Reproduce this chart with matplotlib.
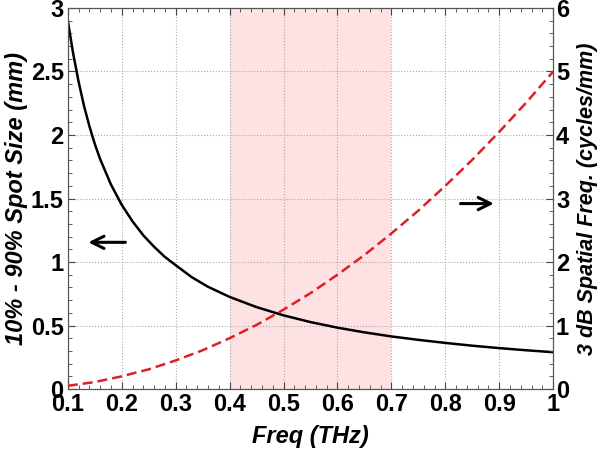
import numpy as np
import matplotlib.pyplot as plt
from matplotlib.ticker import AutoMinorLocator

# --- data ---
freq_spot = [0.1, 0.11, 0.12, 0.13, 0.14, 0.15, 0.16, 0.17, 0.18, 0.19, 0.2,
             0.22, 0.24, 0.26, 0.28, 0.3, 0.33, 0.36, 0.4, 0.45, 0.5,
             0.55, 0.6, 0.65, 0.7, 0.75, 0.8, 0.85, 0.9, 0.95, 1.0]
spot_size = [2.90, 2.64, 2.42, 2.23, 2.07, 1.93, 1.81, 1.71, 1.61, 1.53, 1.45,
             1.32, 1.21, 1.12, 1.04, 0.975, 0.88, 0.805, 0.725, 0.645, 0.58,
             0.527, 0.483, 0.446, 0.414, 0.387, 0.363, 0.341, 0.322, 0.305, 0.29]
freq_sf = [0.1, 0.125, 0.15, 0.2, 0.25, 0.3, 0.35, 0.4, 0.45, 0.5,
           0.55, 0.6, 0.65, 0.7, 0.75, 0.8, 0.85, 0.9, 0.95, 1.0]
spatial_freq = [0.05, 0.08, 0.11, 0.2, 0.31, 0.45, 0.61, 0.8, 1.01, 1.25,
                1.51, 1.8, 2.11, 2.45, 2.81, 3.2, 3.61, 4.05, 4.51, 5.0]
band = (0.4, 0.7)
x_ticks = [0.1, 0.2, 0.3, 0.4, 0.5, 0.6, 0.7, 0.8, 0.9, 1.0]
x_labels = ['0.1', '0.2', '0.3', '0.4', '0.5', '0.6', '0.7', '0.8', '0.9', '1']
left_ticks = [0, 0.5, 1, 1.5, 2, 2.5, 3]
left_labels = ['0', '0.5', '1', '1.5', '2', '2.5', '3']
right_ticks = [0, 1, 2, 3, 4, 5, 6]

plt.rcParams['font.family'] = ['Liberation Sans', 'DejaVu Sans']
plt.rcParams['font.weight'] = 'bold'

fig = plt.figure(figsize=(6, 4.49), dpi=100)
ax = fig.add_axes([0.113, 0.1336, 0.809, 0.8486])
ax2 = ax.twinx()

ax.axvspan(band[0], band[1], color='#fde1e3', zorder=0, lw=0)
ax.plot(freq_spot, spot_size, color='black', lw=1.8, zorder=3)
ax2.plot(freq_sf, spatial_freq, color='#dd1f26', lw=1.8, ls=(0, (4, 2)), zorder=3)

ax.set_xlim(0.1, 1.0)
ax.set_ylim(0, 3)
ax2.set_ylim(0, 6)
ax.set_xticks(x_ticks)
ax.set_xticklabels(x_labels)
ax.set_yticks(left_ticks)
ax.set_yticklabels(left_labels)
ax2.set_yticks(right_ticks)

for a in (ax, ax2):
    a.xaxis.set_minor_locator(AutoMinorLocator(5))
    a.yaxis.set_minor_locator(AutoMinorLocator(5))
    a.tick_params(which='both', direction='in', top=True, labelsize=17,
                  color='#444444', pad=3)
    a.tick_params(which='major', length=5)
    a.tick_params(which='minor', length=3)
    for s in a.spines.values():
        s.set_color('#555555')
ax.tick_params(right=False, which='both')
ax2.tick_params(left=False, which='both')
ax2.tick_params(axis='y', pad=2)

ax.grid(True, which='major', ls=':', color='#aaaaaa', lw=0.8)
ax.set_axisbelow(True)

lab = dict(fontsize=17, fontweight='bold', fontstyle='italic')
ax.set_xlabel('Freq (THz)', labelpad=6, **lab)
ax.set_ylabel('10% - 90% Spot Size (mm)', labelpad=2, **lab)
ax2.set_ylabel('3 dB Spatial Freq. (cycles/mm)', rotation=90,
               ha='center', va='center', fontsize=15.5,
               fontweight='bold', fontstyle='italic')
ax2.yaxis.set_label_coords(1.071, 0.5)

# direction arrows
ax.annotate('', xy=(0.133, 1.155), xytext=(0.212, 1.155),
            arrowprops=dict(arrowstyle='->', color='black', lw=2.2,
                            mutation_scale=22))
ax2.annotate('', xy=(0.895, 2.92), xytext=(0.823, 2.92),
             arrowprops=dict(arrowstyle='->', color='black', lw=2.2,
                             mutation_scale=22))

fig.savefig('out.png', dpi=100)
